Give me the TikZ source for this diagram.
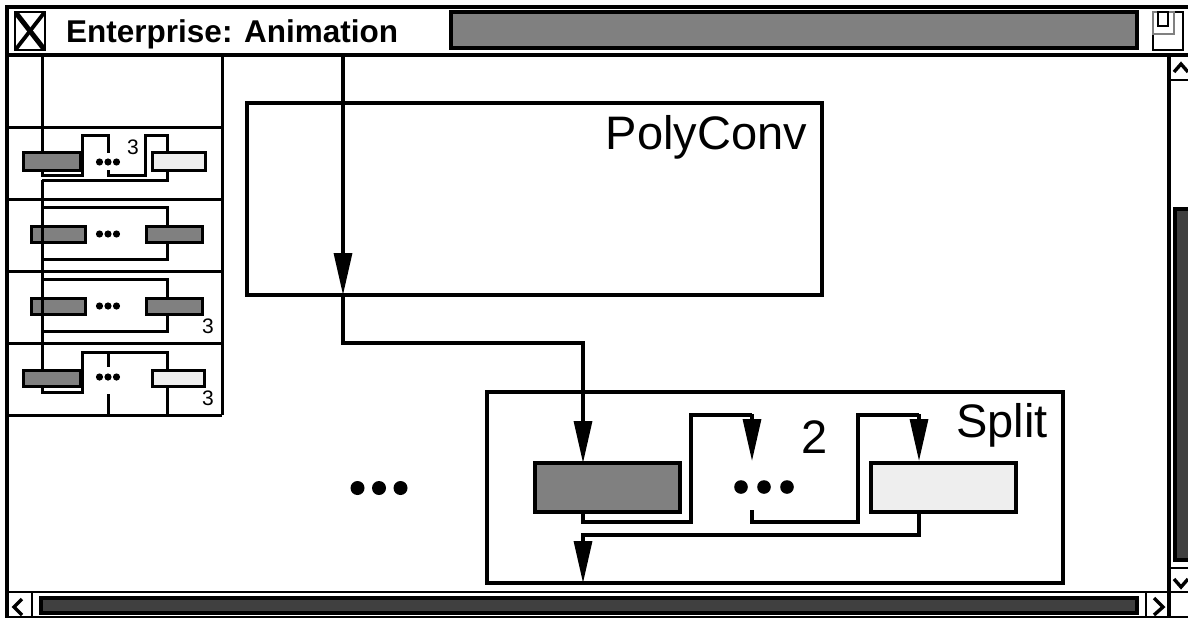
\documentclass[tikz,border=0pt]{standalone}
\usepackage{fontspec}
\setmainfont{Liberation Sans}
\usetikzlibrary{arrows.meta}
\definecolor{midgray}{HTML}{808080}
\definecolor{palegray}{HTML}{EEEEEE}
\definecolor{thumbgray}{HTML}{404040}
% three filled dots: name, centre x, centre y, radius, spacing
\newcommand\threedots[5]{%
  \coordinate (#1) at (#2,#3);
  \foreach \k in {-1,0,1} \fill ({#2+\k*#5},#3) circle[radius=#4];}
\begin{document}
\begin{tikzpicture}[x=1pt,y=-1pt,
  frame/.style={line width=3.4pt},
  thinframe/.style={line width=2.6pt},
  wire/.style={line width=3.3pt},
  smallwire/.style={line width=3pt},
  flow/.style={wire,-{Triangle[length=42pt,width=18pt]}},
  darkbox/.style={draw,line width=3pt,fill=midgray,inner sep=0pt,outer sep=0pt},
  lightbox/.style={draw,line width=3pt,fill=palegray,inner sep=0pt,outer sep=0pt},
  blockbox/.style={draw,line width=3.3pt,inner sep=0pt,outer sep=0pt},
  bigtext/.style={font=\fontsize{47}{50}\selectfont},
  smalltext/.style={font=\fontsize{21}{24}\selectfont},
  chevron/.style={line width=3.4pt,line join=miter}]
\useasboundingbox (0,0) rectangle (1188,618);
\fill[white] (0,0) rectangle (1188,618);

% ---------- window frame and title bar ----------
\draw[frame] (7,618) -- (7,7) -- (1188,7);
\draw[frame] (7,55) -- (1188,55);
\draw[thinframe] (15,12) rectangle (45,50);
\draw[line width=5pt] (16,13) -- (44,49);
\draw[line width=3.8pt] (44,13) -- (16,49);
\node[anchor=base west,inner sep=0pt,font=\bfseries\fontsize{31.5}{34}\selectfont] (title) at (66,43) {Enterprise: Animation};
\draw[frame,fill=midgray] (451,12) rectangle (1137,48);
\draw[thinframe] (1153,12) rectangle (1183,50);
\draw[line width=1.4pt,gray] (1153,12) rectangle (1174,34);
\draw[thinframe] (1158,12) rectangle (1168,26);

% ---------- vertical scroll bar ----------
\draw[frame] (1169,55) -- (1169,618);
\draw[thinframe] (1169,80) -- (1188,80);
\draw[thinframe] (1169,568) -- (1188,568);
\draw[chevron] (1174,72) -- (1181,64) -- (1188,72);
\draw[chevron] (1174,579) -- (1181,587) -- (1188,579);
\draw[frame,fill=thumbgray] (1175,209) rectangle (1193,560);

% ---------- horizontal scroll bar ----------
\draw[thinframe] (7,592) -- (1188,592);
\draw[thinframe] (7,617) -- (1188,617);
\draw[thinframe] (32,592) -- (32,617);
\draw[thinframe] (1146,592) -- (1146,617);
\draw[chevron] (22,599) -- (14,607) -- (22,615);
\draw[chevron] (1154,598) -- (1163,607) -- (1154,615);
\draw[frame,fill=thumbgray] (41,598) rectangle (1137,613);

% ---------- overview panel ----------
\draw[smallwire] (222,55) -- (222,415);
\foreach \y in {127,199,271,343,415} \draw[smallwire] (7,\y) -- (222,\y);

% row 1
\node[darkbox,minimum width=57pt,minimum height=18pt] (r1a) at (51.5,161) {};
\node[lightbox,minimum width=53pt,minimum height=18pt] (r1b) at (178.5,161) {};
\threedots{r1dots}{108}{162}{3.6}{8.5}
\node[smalltext,anchor=base west,inner sep=0pt] (r1n) at (127,154) {3};
\coordinate (feed) at (42,55);
\draw[smallwire] (feed) -- (feed |- r1a.north);
\draw[smallwire] (r1a.south -| feed) -- (42,175) -- (82,175) -- (82,135) -- (108,135) -- (108,153);
\draw[smallwire] (108,170) -- (108,175) -- (145,175) -- (145,135) -- (167,135) -- (r1b.north -| 167,0);
\draw[smallwire] (r1b.south -| 167,0) -- (167,180) -- (42,180);

% row 2
\node[darkbox,minimum width=54pt,minimum height=16pt] (r2a) at (58,234) {};
\node[darkbox,minimum width=56pt,minimum height=16pt] (r2b) at (174,234) {};
\threedots{r2dots}{108}{234}{3.6}{8.5}
\draw[smallwire] (42,207) -- (167,207) -- (r2b.north -| 167,0);
\draw[smallwire] (r2b.south -| 167,0) -- (167,259) -- (42,259);

% row 3
\node[darkbox,minimum width=54pt,minimum height=16pt] (r3a) at (58,306) {};
\node[darkbox,minimum width=56pt,minimum height=16pt] (r3b) at (174,306) {};
\threedots{r3dots}{108}{306}{3.6}{8.5}
\node[smalltext,anchor=base west,inner sep=0pt] (r3n) at (202,333) {3};
\draw[smallwire] (42,279) -- (167,279) -- (r3b.north -| 167,0);
\draw[smallwire] (r3b.south -| 167,0) -- (167,331) -- (42,331);

% row 4
\node[darkbox,minimum width=57pt,minimum height=16pt] (r4a) at (51.5,378) {};
\node[lightbox,minimum width=52pt,minimum height=16pt] (r4b) at (178,378) {};
\threedots{r4dots}{108}{377}{3.6}{8.5}
\node[smalltext,anchor=base west,inner sep=0pt] (r4n) at (202,405) {3};
\draw[smallwire] (42,180) -- (r4a.north -| 42,0);
\draw[smallwire] (r4a.south -| 42,0) -- (42,392) -- (82,392) -- (82,352) -- (167,352) -- (r4b.north -| 167,0);
\draw[smallwire] (108,352) -- (108,367);
\draw[smallwire] (108,394) -- (108,415);
\draw[smallwire] (r4b.south -| 167,0) -- (167,415);

% ---------- main blocks ----------
\node[blockbox,minimum width=575pt,minimum height=192pt] (poly) at (534.5,199) {};
\node[bigtext,anchor=base east,inner sep=0pt] (polylabel) at (807,149) {PolyConv};

\node[blockbox,minimum width=576pt,minimum height=191pt] (split) at (775,487.5) {};
\node[bigtext,anchor=base east,inner sep=0pt] (splitlabel) at (1048,437) {Split};
\node[bigtext,anchor=base west,inner sep=0pt] (count) at (801,453) {2};

\node[darkbox,line width=3.3pt,minimum width=145pt,minimum height=49pt] (sd) at (607.5,487.5) {};
\node[lightbox,line width=3.3pt,minimum width=145pt,minimum height=49pt] (sl) at (943.5,487.5) {};
\threedots{sdots}{764}{487}{6.8}{23}
\threedots{moredots}{379}{488}{7}{21.5}

% ---------- connectors ----------
\coordinate (entry) at (343,55);
\draw[flow] (entry) -- (poly.south -| entry);
\draw[flow] (poly.south -| entry) -- (343,343) -- (583,343) -- (sd.north -| 583,0);
\draw[wire] (sd.south -| 583,0) -- (583,522) -- (691,522) -- (691,415) -- (752,415);
\draw[flow] (752,414) -- (752,461);
\draw[wire] (752,510) -- (752,522) -- (858,522) -- (858,415) -- (919,415);
\draw[flow] (919,414) -- (919,461);
\draw[flow] (sl.south -| 919,0) -- (919,535) -- (583,535) -- (split.south -| 583,0);
\end{tikzpicture}
\end{document}
